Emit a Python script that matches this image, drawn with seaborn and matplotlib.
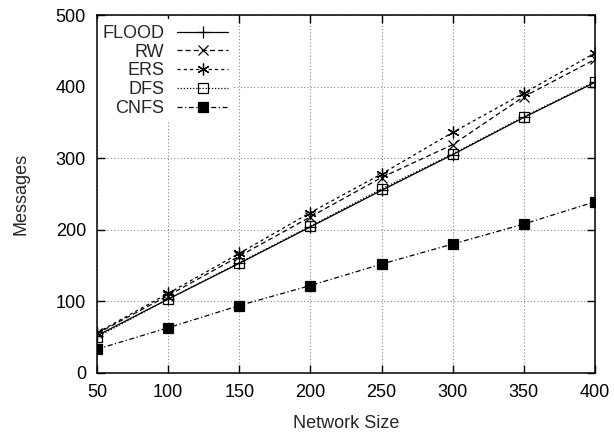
import pandas as pd
import matplotlib
matplotlib.use("Agg")
import matplotlib.pyplot as plt
import seaborn as sns

OUTPUT_IMAGE = "out.png"

# --- Data ---
network_size = [50, 100, 150, 200, 250, 300, 350, 400]
flood = [52, 103, 153, 204, 255, 305, 357, 406]
rw = [55, 108, 163, 218, 273, 319, 386, 438]
ers = [56, 111, 167, 224, 278, 336, 391, 447]
dfs = [50, 103, 154, 205, 257, 306, 358, 407]
cnfs = [33, 63, 94, 122, 152, 180, 208, 239]

x_ticks = [50, 100, 150, 200, 250, 300, 350, 400]
y_ticks = [0, 100, 200, 300, 400, 500]


def main():
    series = {"FLOOD": flood, "RW": rw, "ERS": ers, "DFS": dfs, "CNFS": cnfs}
    df = pd.DataFrame(
        [(name, n, v) for name, vals in series.items() for n, v in zip(network_size, vals)],
        columns=["Algorithm", "Network Size", "Messages"],
    )

    sns.set_theme(style="ticks")
    plt.rcParams["font.family"] = ["Liberation Sans", "DejaVu Sans"]

    fig = plt.figure(figsize=(6.14, 4.32), dpi=100)
    ax = fig.add_axes([0.158, 0.137, 0.811, 0.828])

    # gnuplot-like line/marker styles
    styles = {
        "FLOOD": dict(linestyle="-", marker="+", markersize=8, markerfacecolor="none"),
        "RW": dict(linestyle=(0, (4, 2.5)), marker="x", markersize=6.5, markerfacecolor="none"),
        "ERS": dict(linestyle=(0, (2.5, 2.5)), marker=(6, 2, 0), markersize=8.5, markerfacecolor="none"),
        "DFS": dict(linestyle=(0, (1, 1.5)), marker="s", markersize=6.5, markerfacecolor="none"),
        "CNFS": dict(linestyle=(0, (4, 2, 1, 2)), marker="s", markersize=6.5, markerfacecolor="black"),
    }

    for name in series:
        sub = df[df["Algorithm"] == name]
        sns.lineplot(data=sub, x="Network Size", y="Messages", ax=ax, label=name,
                     color="black", linewidth=0.9, markeredgecolor="black",
                     markeredgewidth=0.9, **styles[name])

    ax.set_xlim(50, 400)
    ax.set_ylim(0, 500)
    ax.set_xticks(x_ticks)
    ax.set_yticks(y_ticks)
    ax.tick_params(direction="in", length=6, width=1, top=True, right=True,
                   labelsize=13, colors="black", pad=8)
    for s in ax.spines.values():
        s.set_color("black")
        s.set_linewidth(1.1)
        s.set_zorder(6)

    ax.grid(True, linestyle=(0, (1, 2)), color="#888888", linewidth=0.8)
    ax.set_axisbelow(True)

    ax.set_xlabel("Network Size", fontsize=13, labelpad=10)
    ax.set_ylabel("Messages", fontsize=13, labelpad=19)

    leg = ax.legend(loc="upper left", bbox_to_anchor=(0.0, 0.988), markerfirst=False,
                    frameon=True, fontsize=13, handlelength=2.8, handletextpad=0.72,
                    labelspacing=0.1, borderpad=0.3, borderaxespad=0.0, fancybox=False)
    leg.get_frame().set_linewidth(0)
    leg.get_frame().set_facecolor("white")
    leg.get_frame().set_alpha(1.0)
    # right-align labels like gnuplot's key
    leg._legend_box.align = "right"
    for t in leg.get_texts():
        t.set_ha("right")

    fig.savefig(OUTPUT_IMAGE, dpi=100)


if __name__ == "__main__":
    main()
